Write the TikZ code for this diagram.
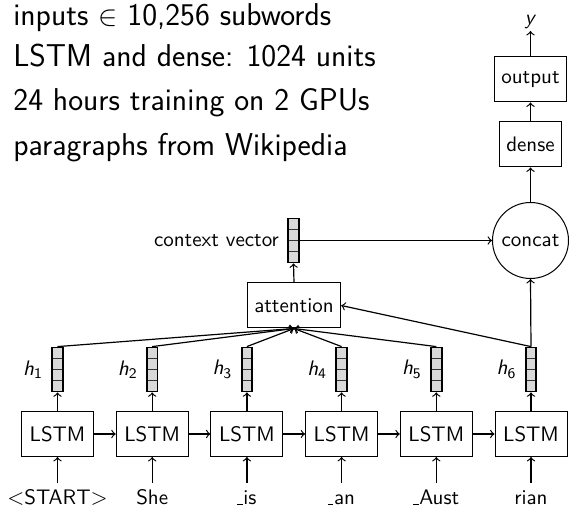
\documentclass[tikz,border=0pt]{standalone}
\usetikzlibrary{calc}
\newcommand{\usc}{\rule{2.6pt}{0.45pt}\kern0.3pt}
\begin{document}
\begin{tikzpicture}[x=0.5pt,y=-0.5pt, >=to,
  font=\sffamily\fontsize{10.5}{12}\selectfont,
  box/.style={draw, line width=0.5pt, minimum height=22.5pt, inner sep=3.5pt},
  lstm/.style={box, minimum width=36pt},
  vec/.style={draw, fill=gray!30, line width=0.9pt, minimum width=5.3pt, minimum height=22pt, inner sep=0pt,
    path picture={\foreach \k in {1,2,3}{\draw[line width=0.5pt, black!80]
      ($(path picture bounding box.south west)!\k/4!(path picture bounding box.north west)$) --
      ($(path picture bounding box.south east)!\k/4!(path picture bounding box.north east)$);}}},
  conn/.style={->, line width=0.6pt},
  tok/.style={anchor=base, text height=0.72em, text depth=0.22em, inner sep=3.5pt},
  hlab/.style={anchor=east, inner sep=4pt},
  head/.style={anchor=base west, inner sep=0pt, font=\sffamily\fontsize{15.8}{19}\selectfont}]
\useasboundingbox (0,0) rectangle (569,508);

\node[head] (t1) at (13,25.5) {inputs $\in$ 10,256 subwords};
\node[head] (t2) at (13,67) {LSTM and dense: 1024 units};
\node[head] (t3) at (13,111) {24 hours training on 2 GPUs};
\node[head] (t4) at (13,156) {paragraphs from Wikipedia};

\foreach \i/\x/\w in {1/57.5/{$<$START$>$}, 2/152.2/She, 3/246.9/\usc is, 4/341.6/\usc an, 5/436.3/\usc Aust, 6/531/rian} {
  \node[lstm] (L\i) at (\x,434) {LSTM};
  \node[vec] (h\i) at (\x,369.5) {};
  \node[hlab] (hl\i) at (h\i.west) {\textsl{h}\textsubscript{\i}};
  \node[tok] (w\i) at (\x,505) {\w};
  \draw[conn] (w\i.north) -- (L\i.south);
  \draw[conn] (L\i.north) -- (h\i.south);
}
\foreach \i/\j in {1/2,2/3,3/4,4/5,5/6}
  \draw[conn] (L\i.east) -- (L\j.west);

\node[box] (att) at (294,305.5) {attention};
\node[vec] (cv) at (293.5,240.5) {};
\node[anchor=east, inner sep=4pt] (cvl) at (cv.west) {context vector};
\node[draw, circle, minimum size=38pt, inner sep=0pt, line width=0.5pt] (cc) at (530.5,240.5) {concat};
\node[box] (dense) at (530.5,144.5) {dense};
\node[box] (out) at (530.5,79.5) {output};
\node[inner sep=1pt, anchor=south] (y) at (530.5,31) {\textsl{y}};

\draw[conn] (att.north) -- (cv.south);
\draw[conn] (cv.east) -- (cc.west);
\foreach \i in {1,...,5}
  \draw[conn] (h\i.north) -- (att.south);
\draw[conn] (h6.north) -- (att.east);
\draw[conn] (h6.north) -- (cc.south);
\draw[conn] (cc.north) -- (dense.south);
\draw[conn] (dense.north) -- (out.south);
\draw[conn] (out.north) -- (y.south);
\end{tikzpicture}
\end{document}
